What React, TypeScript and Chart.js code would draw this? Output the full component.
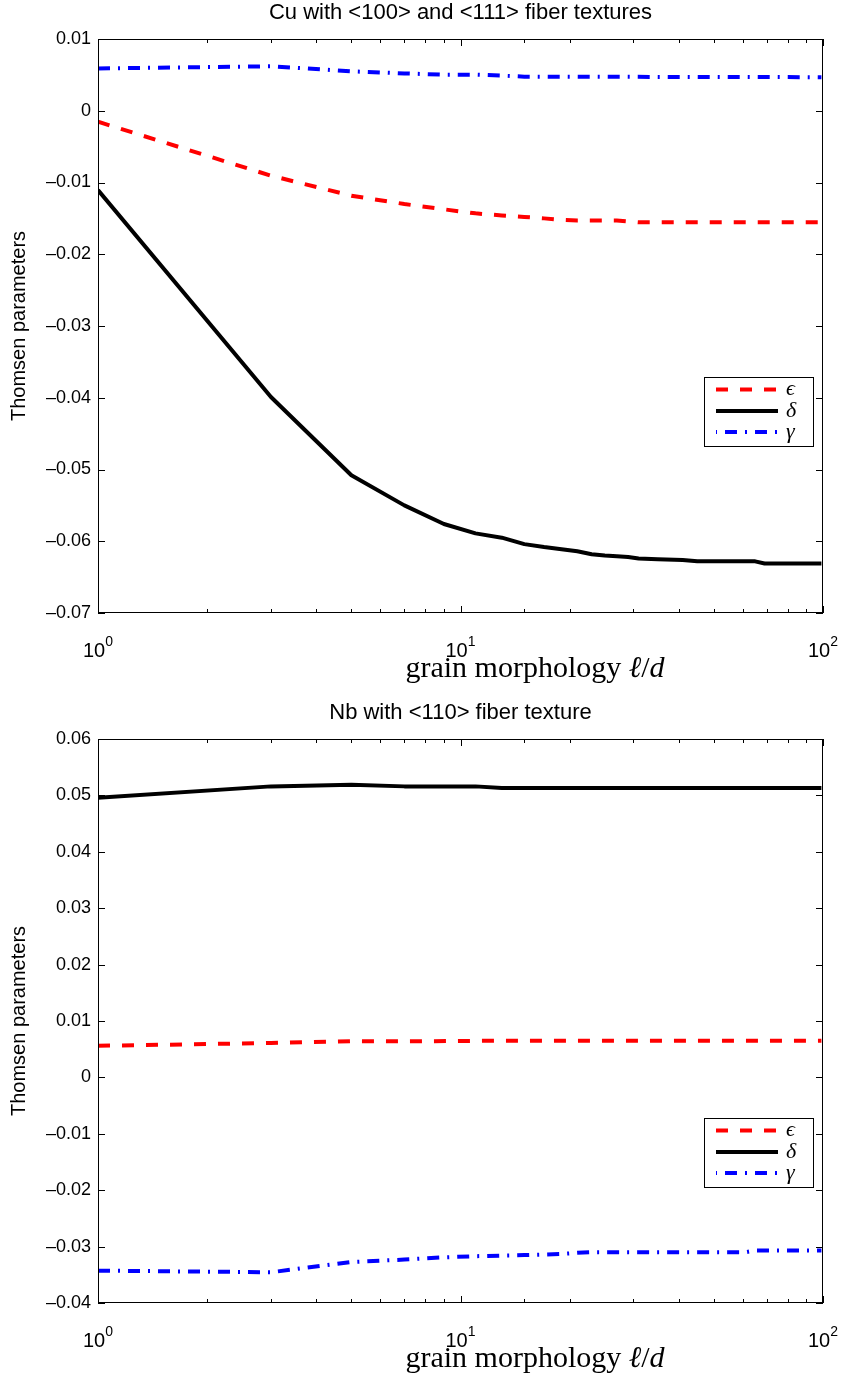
import React, { useEffect, useRef } from 'react';
import { Chart, registerables } from 'chart.js';

Chart.register(...registerables);

const SANS = '"Liberation Sans", Arial, Helvetica, sans-serif';
const SERIF = '"Liberation Serif", "Times New Roman", Times, serif';

// ---------- Data: Cu panel ----------
const cuTitle = 'Cu with <100> and <111> fiber textures';
const cuEpsX = [1, 3, 5, 7, 9, 11, 13, 15, 17, 19, 21, 23, 27, 31, 99];
const cuEpsY = [-0.00153, -0.00905, -0.01184, -0.013, -0.01374, -0.0143, -0.0146, -0.0148, -0.015, -0.0152, -0.0153, -0.0153, -0.0153, -0.01555, -0.01555];
const cuDelX = [1, 3, 5, 7, 9, 11, 13, 15, 17, 19, 21, 23, 25, 27, 29, 31, 35, 41, 45, 49, 65, 69, 99];
const cuDelY = [-0.01105, -0.0399, -0.0508, -0.055, -0.0576, -0.0589, -0.0595, -0.0604, -0.0608, -0.0611, -0.0614, -0.0618, -0.062, -0.0621, -0.0622, -0.0624, -0.0625, -0.0626, -0.0628, -0.0628, -0.0628, -0.0631, -0.0631];
const cuGamX = [1, 3, 5, 7, 9, 11, 13, 15, 99];
const cuGamY = [0.0059, 0.0062, 0.0055, 0.0052, 0.00503, 0.00503, 0.0049, 0.00475, 0.00468];
const cuYMin = -0.07;
const cuYMax = 0.01;

// ---------- Data: Nb panel ----------
const nbTitle = 'Nb with <110> fiber texture';
const nbEpsX = [1, 3, 5, 7, 13, 99];
const nbEpsY = [0.0056, 0.0061, 0.0064, 0.0064, 0.0065, 0.0065];
const nbDelX = [1, 3, 5, 7, 11, 13, 99];
const nbDelY = [0.0496, 0.0516, 0.0519, 0.0516, 0.0516, 0.0513, 0.0513];
const nbGamX = [1, 3, 5, 7, 9, 11, 15, 17, 19, 21, 23, 61, 65, 99];
const nbGamY = [-0.03426, -0.03455, -0.03273, -0.0323, -0.0319, -0.0317, -0.0315, -0.0314, -0.0313, -0.0311, -0.031, -0.031, -0.0307, -0.0307];
const nbYMin = -0.04;
const nbYMax = 0.06;

// ---------- Axis / legend text ----------
const yTickStep = 0.01;
const xMin = 1;
const xMax = 100;
const legendLabels = ['\u03F5', '\u03B4', '\u03B3'];
const yAxisTitle = 'Thomsen parameters';
const xAxisTitleRoman = 'grain morphology ';
const xAxisTitleVar1 = '\u2113';
const xAxisTitleSlash = '/';
const xAxisTitleVar2 = 'd';

const pts = (xs: number[], ys: number[]) => xs.map((x, i) => ({ x, y: ys[i] }));

const fmtY = (v: number) => {
  const r = Math.round(v * 100) / 100;
  if (Math.abs(r) < 1e-9) return '0';
  return (r < 0 ? '\u2013' : '') + Math.abs(r).toFixed(2);
};

const matlabPlugin = {
  id: 'matlab',
  afterDatasetsDraw(chart: any) {
    const { ctx, chartArea: a, scales } = chart;
    const o = chart.options.plugins.matlab || {};
    const xs = scales.x;
    const ys = scales.y;
    ctx.save();
    ctx.strokeStyle = '#000';
    ctx.fillStyle = '#000';
    ctx.lineWidth = 1;
    ctx.setLineDash([]);
    // box
    ctx.strokeRect(a.left + 0.5, a.top + 0.5, a.right - a.left - 1, a.bottom - a.top - 1);
    // ticks
    ctx.beginPath();
    for (const t of ys.ticks) {
      const py = Math.round(ys.getPixelForValue(t.value)) + 0.5;
      ctx.moveTo(a.left, py);
      ctx.lineTo(a.left + 7, py);
      ctx.moveTo(a.right, py);
      ctx.lineTo(a.right - 7, py);
    }
    const majors: number[] = [];
    for (const t of xs.ticks) {
      const v = t.value;
      if (v < xMin - 1e-9 || v > xMax + 1e-9) continue;
      const lg = Math.log10(v);
      const major = Math.abs(lg - Math.round(lg)) < 1e-6;
      if (major) majors.push(v);
      const len = major ? 7 : 4;
      const px = Math.round(xs.getPixelForValue(v)) + 0.5;
      ctx.moveTo(px, a.top);
      ctx.lineTo(px, a.top + len);
      ctx.moveTo(px, a.bottom);
      ctx.lineTo(px, a.bottom - len);
    }
    ctx.stroke();
    // x tick labels 10^n
    ctx.textBaseline = 'alphabetic';
    ctx.textAlign = 'left';
    const baseFont = `20px ${SANS}`;
    const expFont = `14px ${SANS}`;
    for (const v of majors) {
      const e = String(Math.round(Math.log10(v)));
      ctx.font = baseFont;
      const wb = ctx.measureText('10').width;
      ctx.font = expFont;
      const we = ctx.measureText(e).width;
      const px = xs.getPixelForValue(v);
      const x0 = px - (wb + we) / 2;
      ctx.font = baseFont;
      ctx.fillText('10', x0, a.bottom + 44);
      ctx.font = expFont;
      ctx.fillText(e, x0 + wb, a.bottom + 33);
    }
    // x axis title
    const tf = 30;
    const roman = `${tf}px ${SERIF}`;
    const ital = `italic ${tf}px ${SERIF}`;
    const parts: [string, string][] = [
      [xAxisTitleRoman, roman],
      [xAxisTitleVar1, ital],
      [xAxisTitleSlash, roman],
      [xAxisTitleVar2, ital],
    ];
    let total = 0;
    const widths: number[] = [];
    for (const [s, f] of parts) {
      ctx.font = f;
      const w = ctx.measureText(s).width;
      widths.push(w);
      total += w;
    }
    let cx = (o.xTitleCenter ?? (a.left + a.right) / 2) - total / 2;
    parts.forEach(([s, f], i) => {
      ctx.font = f;
      ctx.fillText(s, cx, a.bottom + 64);
      cx += widths[i];
    });
    // legend
    const lw = 110;
    const lh = 70;
    const lx = a.right - 9 - lw;
    const ly = o.legendTop;
    ctx.fillStyle = '#fff';
    ctx.fillRect(lx, ly, lw, lh);
    ctx.strokeStyle = '#000';
    ctx.lineWidth = 1;
    ctx.strokeRect(lx + 0.5, ly + 0.5, lw - 1, lh - 1);
    const rows = [12.5, 34, 55];
    chart.data.datasets.forEach((ds: any, i: number) => {
      const ry = ly + rows[i];
      ctx.save();
      ctx.strokeStyle = ds.borderColor;
      ctx.lineWidth = ds.borderWidth;
      ctx.lineCap = 'butt';
      ctx.setLineDash(ds.borderDash || []);
      ctx.lineDashOffset = ds.legendDashOffset || 0;
      ctx.beginPath();
      ctx.moveTo(lx + 12, ry);
      ctx.lineTo(lx + 74, ry);
      ctx.stroke();
      ctx.restore();
      ctx.fillStyle = '#000';
      ctx.font = `italic 22px ${SERIF}`;
      ctx.textBaseline = 'middle';
      ctx.fillText(legendLabels[i], lx + 82, ry);
    });
    ctx.restore();
  },
};

type PanelProps = {
  title: string;
  height: number;
  titlePadTop: number;
  titlePadBottom: number;
  xAxisHeight: number;
  yMin: number;
  yMax: number;
  eps: { x: number; y: number }[];
  del: { x: number; y: number }[];
  gam: { x: number; y: number }[];
  legendTop: number;
};

function Panel(p: PanelProps) {
  const ref = useRef<HTMLCanvasElement | null>(null);
  useEffect(() => {
    if (!ref.current) return;
    const chart = new Chart(ref.current, {
      type: 'line',
      data: {
        datasets: [
          {
            label: 'epsilon',
            data: p.eps,
            borderColor: '#ff0000',
            borderWidth: 4,
            borderDash: [12, 12],
            pointRadius: 0,
            tension: 0,
            borderCapStyle: 'butt',
            fill: false,
          } as any,
          {
            label: 'delta',
            data: p.del,
            borderColor: '#000000',
            borderWidth: 4,
            pointRadius: 0,
            tension: 0,
            borderJoinStyle: 'round',
            fill: false,
          } as any,
          {
            label: 'gamma',
            data: p.gam,
            borderColor: '#0000ff',
            borderWidth: 4,
            borderDash: [12, 8, 2, 8],
            legendDashOffset: 21,
            pointRadius: 0,
            tension: 0,
            borderCapStyle: 'butt',
            fill: false,
          } as any,
        ],
      },
      options: {
        animation: false,
        responsive: false,
        devicePixelRatio: 1,
        layout: { padding: { left: 0, right: 21, top: 0, bottom: 0 } },
        plugins: {
          legend: { display: false },
          tooltip: { enabled: false },
          title: {
            display: true,
            fullSize: false,
            text: p.title,
            color: '#000',
            font: { family: SANS, size: 22, weight: 'normal' as any, lineHeight: 1.2 },
            padding: { top: p.titlePadTop, bottom: p.titlePadBottom },
          },
          matlab: { legendTop: p.legendTop, xTitleCenter: 535 },
        } as any,
        scales: {
          x: {
            type: 'logarithmic',
            min: xMin,
            max: xMax,
            grid: { display: false, drawTicks: false },
            border: { display: false },
            ticks: { display: false },
            afterFit: (s: any) => {
              s.height = p.xAxisHeight;
            },
          },
          y: {
            type: 'linear',
            min: p.yMin,
            max: p.yMax,
            grid: { display: false, drawTicks: false },
            border: { display: false },
            ticks: {
              stepSize: yTickStep,
              color: '#000',
              padding: 7,
              font: { family: SANS, size: 18 },
              callback: (v: any) => fmtY(Number(v)),
            },
            title: {
              display: true,
              text: yAxisTitle,
              color: '#000',
              font: { family: SANS, size: 20 },
              padding: { top: 7, bottom: 0 },
            },
            afterFit: (s: any) => {
              s.width = 98;
            },
          },
        },
      } as any,
      plugins: [matlabPlugin as any],
    });
    return () => chart.destroy();
  }, []);
  return <canvas ref={ref} width={844} height={p.height} style={{ display: 'block' }} />;
}

export default function App() {
  return (
    <div style={{ position: 'absolute', left: 0, top: 0, width: 844, height: 1383, background: '#fff' }}>
      <Panel
        title={cuTitle}
        height={690}
        titlePadTop={0}
        titlePadBottom={12.6}
        xAxisHeight={77}
        yMin={cuYMin}
        yMax={cuYMax}
        eps={pts(cuEpsX, cuEpsY)}
        del={pts(cuDelX, cuDelY)}
        gam={pts(cuGamX, cuGamY)}
        legendTop={377}
      />
      <Panel
        title={nbTitle}
        height={693}
        titlePadTop={10}
        titlePadBottom={12.6}
        xAxisHeight={80}
        yMin={nbYMin}
        yMax={nbYMax}
        eps={pts(nbEpsX, nbEpsY)}
        del={pts(nbDelX, nbDelY)}
        gam={pts(nbGamX, nbGamY)}
        legendTop={428}
      />
    </div>
  );
}
